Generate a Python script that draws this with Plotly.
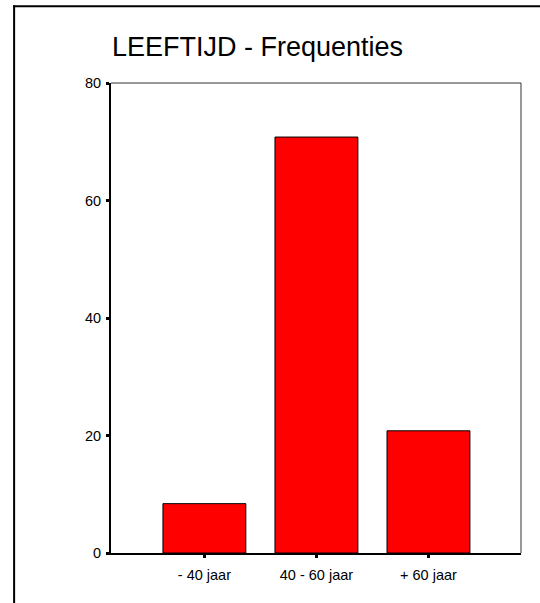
import plotly.graph_objects as go

categories = ["- 40 jaar", "40 - 60 jaar", "+ 60 jaar"]
values = [8.4, 70.8, 20.8]
y_ticks = [0, 20, 40, 60, 80]
title_text = "LEEFTIJD - Frequenties"

W, H = 540, 603
ML, MR, MT, MB = 111, 18.5, 82.5, 49.5
PW = W - ML - MR
PH = H - MT - MB

def px_x(px):
    return (px - ML) / PW

def px_y(py):
    return (H - MB - py) / PH

FONT = "Liberation Sans, Arial, sans-serif"

fig = go.Figure(go.Bar(
    x=categories,
    y=values,
    width=0.74,
    marker=dict(color="#ff0000", line=dict(color="black", width=1)),
))

fig.update_layout(
    width=W, height=H,
    margin=dict(l=ML, r=MR, t=MT, b=MB, pad=0),
    paper_bgcolor="white",
    plot_bgcolor="white",
    showlegend=False,
    font=dict(family=FONT, color="black", size=14),
    xaxis=dict(
        type="category",
        range=[-0.8336, 2.826],
        showline=True, linecolor="black", linewidth=2,
        ticks="outside", ticklen=3, tickwidth=3, tickcolor="black",
        showgrid=False, zeroline=False,
        ticklabelstandoff=5,
        tickfont=dict(family=FONT, size=14.5, color="black"),
    ),
    yaxis=dict(
        range=[0, 80],
        tickvals=y_ticks,
        showline=True, linecolor="black", linewidth=2,
        ticks="outside", ticklen=3, tickwidth=3, tickcolor="black",
        showgrid=False, zeroline=False,
        ticklabelstandoff=2,
        tickfont=dict(family=FONT, size=14.5, color="black"),
    ),
    annotations=[dict(
        text=title_text, xref="paper", yref="paper",
        x=px_x(109.5), y=px_y(56.7), xanchor="left", yanchor="bottom",
        showarrow=False, font=dict(family=FONT, size=27, color="black"),
        yshift=-7,
    )],
    shapes=[
        # thin top and right plot borders
        dict(type="line", xref="paper", yref="paper", x0=0, x1=1, y0=1, y1=1,
             line=dict(color="#333333", width=1)),
        dict(type="line", xref="paper", yref="paper", x0=1, x1=1, y0=0, y1=1,
             line=dict(color="#333333", width=1)),
        # outer frame (top and left)
        dict(type="line", xref="paper", yref="paper", x0=px_x(13), x1=px_x(545),
             y0=px_y(5.5), y1=px_y(5.5), line=dict(color="black", width=2)),
        dict(type="line", xref="paper", yref="paper", x0=px_x(14), x1=px_x(14),
             y0=px_y(4.5), y1=px_y(610), line=dict(color="black", width=2)),
    ],
)

fig.write_html(
    "out.html",
    config={"displayModeBar": False},
    post_script="document.body.style.margin='0';document.body.style.overflow='hidden';",
)
